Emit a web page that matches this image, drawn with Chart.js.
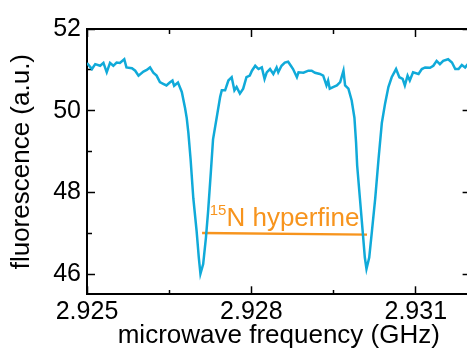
<!DOCTYPE html>
<html><head><meta charset="utf-8">
<script src="https://cdn.jsdelivr.net/npm/chart.js@4/dist/chart.umd.min.js"></script>
<style>html,body{margin:0;padding:0;overflow:hidden;background:#fff;}canvas{display:block;}</style>
</head><body>
<canvas id="c" width="480" height="354"></canvas>
<script>
const frequencyGHz = [
2.92500,2.92509,2.92515,2.92524,2.92530,2.92536,2.92542,2.92548,2.92554,2.92560,
2.92568,2.92572,2.92582,2.92588,2.92594,2.92603,2.92609,2.92615,2.92621,2.92627,
2.92633,2.92639,2.92645,2.92651,2.92656,2.92659,2.92666,2.92673,2.92679,2.92682,
2.92685,2.92689,2.92694,2.92700,2.92704,2.92707,2.92712,2.92717,2.92721,2.92726,
2.92730,2.92737,2.92743,2.92746,2.92752,2.92758,2.92764,2.92769,2.92773,2.92779,
2.92785,2.92791,2.92797,2.92801,2.92807,2.92813,2.92819,2.92824,2.92828,2.92834,
2.92840,2.92846,2.92849,2.92855,2.92861,2.92867,2.92872,2.92876,2.92883,2.92886,
2.92895,2.92904,2.92910,2.92916,2.92925,2.92931,2.92937,2.92940,2.92943,2.92949,
2.92956,2.92962,2.92968,2.92971,2.92977,2.92983,2.92988,2.92991,2.92993,2.92998,
2.93003,2.93007,2.93010,2.93015,2.93020,2.93026,2.93032,2.93038,2.93044,2.93050,
2.93056,2.93064,2.93070,2.93076,2.93080,2.93085,2.93089,2.93095,2.93105,2.93111,
2.93117,2.93126,2.93132,2.93138,2.93144,2.93150,2.93159,2.93166,2.93172,2.93178,
2.93184,2.93190,2.93195,2.93200];
const fluorescence = [
51.17,51.02,51.14,51.10,51.17,50.94,51.17,51.10,51.18,51.17,
51.26,51.06,51.04,50.98,50.86,50.96,51.00,51.06,50.93,50.86,
50.70,50.66,50.62,50.69,50.74,50.61,50.69,50.46,50.06,49.82,
49.46,48.82,47.86,47.06,46.41,46.01,46.25,46.89,47.54,48.50,
49.30,49.86,50.34,50.50,50.50,50.74,50.82,50.50,50.58,50.42,
50.54,50.82,50.86,50.98,51.10,51.02,51.06,50.78,50.94,51.02,
50.90,51.06,50.94,51.10,51.18,51.20,51.10,51.02,50.82,50.94,
50.93,50.98,50.98,50.93,50.90,50.86,50.62,50.74,50.54,50.58,
50.62,50.70,50.98,50.62,50.54,50.25,49.83,49.22,48.66,47.86,
47.06,46.41,46.13,46.41,47.06,47.86,48.82,49.70,50.18,50.58,
50.82,51.02,50.82,50.78,50.62,50.86,50.74,50.94,50.90,51.02,
51.06,51.05,51.10,51.22,51.14,51.22,51.26,51.18,51.02,51.02,
51.12,51.06,51.14,51.10];

const hyperfineLineGHz = [2.92710, 2.93011];
const hyperfineLineLevel = [47.01, 46.97];
const hyperfineLabelSup = '15';
const hyperfineLabelMain = 'N hyperfine';
const hyperfineLabelAt = [2.92724, 47.18];

const xTickValues = [2.925, 2.9265, 2.928, 2.9295, 2.931];
const xTickLabels = ['2.925', '', '2.928', '', '2.931'];
const yTickValues = [46, 47, 48, 49, 50, 51, 52];
const yTickLabels = ['46', '', '48', '', '50', '', '52'];
const xTitle = 'microwave frequency (GHz)';
const yTitle = 'fluorescence (a.u.)';

const BLUE = '#10aad9';
const ORANGE = '#f7941d';
const FONT = '"Liberation Sans", Arial, Helvetica, sans-serif';
const X_MIN = 2.925, X_MAX = 2.932, Y_MIN = 45.51, Y_MAX = 52;

const mainData = frequencyGHz.map((f, i) => ({x: f, y: fluorescence[i]}));
const lineData = hyperfineLineGHz.map((f, i) => ({x: f, y: hyperfineLineLevel[i]}));

function tickDash(labels, startsAtBorder) {
  return ctx => (labels[ctx.index] === '' ? (startsAtBorder ? [5, 100] : [0, 3, 5, 100]) : []);
}
function gridOpts(labels, startsAtBorder) {
  return {drawOnChartArea: false, drawTicks: true, tickLength: -8, tickWidth: 1.5,
          tickColor: '#000', tickBorderDash: tickDash(labels, startsAtBorder)};
}
const border = {display: true, color: '#000', width: 2};

const labelPlugin = {
  id: 'hfLabel',
  afterDatasetsDraw(chart) {
    const {ctx, scales} = chart;
    const px = scales.x.getPixelForValue(hyperfineLabelAt[0]);
    const py = scales.y.getPixelForValue(hyperfineLabelAt[1]);
    ctx.save();
    ctx.fillStyle = ORANGE;
    ctx.textAlign = 'left';
    ctx.textBaseline = 'alphabetic';
    ctx.font = '15px ' + FONT;
    ctx.fillText(hyperfineLabelSup, px, py - 11.5);
    const w = ctx.measureText(hyperfineLabelSup).width;
    ctx.font = '26px ' + FONT;
    ctx.fillText(hyperfineLabelMain, px + w, py);
    ctx.restore();
  }
};

new Chart(document.getElementById('c'), {
  type: 'line',
  data: {datasets: [
    {data: mainData, borderColor: BLUE, borderWidth: 2.5, pointRadius: 0, tension: 0, fill: false},
    {data: lineData, borderColor: ORANGE, borderWidth: 2.4, pointRadius: 0, tension: 0, fill: false}
  ]},
  options: {
    responsive: false, animation: false, events: [],
    layout: {padding: {top: 24.3, right: 9.4, left: 0, bottom: 0}},
    plugins: {legend: {display: false}, tooltip: {enabled: false}},
    scales: {
      x: {
        type: 'linear', position: 'bottom', min: X_MIN, max: X_MAX,
        afterBuildTicks: s => { s.ticks = xTickValues.map(v => ({value: v})); },
        afterFit: s => { s.height = 59.7; },
        ticks: {callback: (v, i) => xTickLabels[i], color: '#000', font: {family: FONT, size: 25},
                padding: 10.4, maxRotation: 0, autoSkip: false},
        grid: gridOpts(xTickLabels, true), border,
        title: {display: true, text: xTitle, color: '#000', font: {family: FONT, size: 26},
                padding: {top: 0, bottom: 2.8}}
      },
      x2: {
        type: 'linear', position: 'top', min: X_MIN, max: X_MAX,
        afterBuildTicks: s => { s.ticks = xTickValues.map(v => ({value: v})); },
        afterFit: s => { s.height = 0; },
        ticks: {display: false}, grid: gridOpts(xTickLabels, false), border
      },
      y: {
        type: 'linear', position: 'left', min: Y_MIN, max: Y_MAX,
        afterBuildTicks: s => { s.ticks = yTickValues.map(v => ({value: v})); },
        afterFit: s => { s.width = 87; },
        ticks: {callback: (v, i) => yTickLabels[i], color: '#000', font: {family: FONT, size: 25},
                padding: 14, autoSkip: false},
        grid: gridOpts(yTickLabels, false), border,
        title: {display: true, text: yTitle, color: '#000', font: {family: FONT, size: 26},
                padding: {top: 6.2, bottom: 0}}
      },
      y2: {
        type: 'linear', position: 'right', min: Y_MIN, max: Y_MAX,
        afterBuildTicks: s => { s.ticks = yTickValues.map(v => ({value: v})); },
        afterFit: s => { s.width = 0; },
        ticks: {display: false}, grid: gridOpts(yTickLabels, true), border
      }
    }
  },
  plugins: [labelPlugin]
});
</script>
</body></html>
